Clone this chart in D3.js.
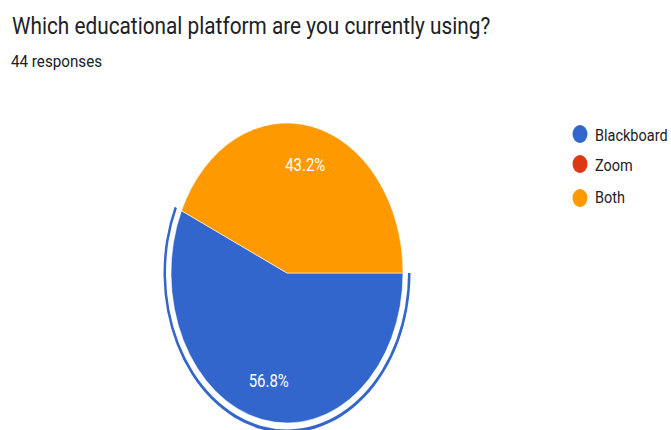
<!DOCTYPE html>
<html><head><meta charset="utf-8">
<script src="https://cdn.jsdelivr.net/npm/d3@7"></script>
<style>body{margin:0;background:#fff}svg{display:block}</style>
</head><body>
<script>
const categories = ["Blackboard", "Zoom", "Both"];
const values = [25, 0, 19];
const colors = ["#3366cc", "#dc3912", "#ff9900"];
const title = "Which educational platform are you currently using?";
const subtitle = "44 responses";

const W = 671, H = 430;
const svg = d3.select("body").append("svg").attr("width", W).attr("height", H);
svg.append("rect").attr("width", W).attr("height", H).attr("fill", "#fff");

svg.append("text").attr("transform", "translate(12,34) scale(1,1.15)")
  .attr("font-family", "Roboto").attr("font-size", 20.8).attr("fill", "#202124")
  .text(title);
svg.append("text").attr("transform", "translate(11,67) scale(1,1.05)")
  .attr("font-family", "Roboto").attr("font-size", 15.2).attr("fill", "#202124")
  .text(subtitle);

const total = d3.sum(values);
const r = 116, sy = 150 / 116;
const pie = d3.pie().sort(null).value(d => d).startAngle(Math.PI / 2).endAngle(Math.PI / 2 + 2 * Math.PI);
const arcs = pie(values);
const arc = d3.arc().innerRadius(0).outerRadius(r);
const ring = d3.arc().innerRadius(r + 5).outerRadius(r + 7.5);

const g = svg.append("g").attr("transform", `translate(287,273) scale(1,${sy})`);
g.selectAll("path.s").data(arcs.filter(a => a.value > 0)).join("path")
  .attr("class", "s").attr("d", arc).attr("fill", (d) => colors[d.index])
  .attr("stroke", "#fff").attr("stroke-width", 0.5);
g.append("path").datum(arcs[0]).attr("d", ring).attr("fill", colors[0]);

const lab = d3.arc().innerRadius(r * 0.74).outerRadius(r * 0.74);
svg.selectAll("text.pct").data(arcs.filter(a => a.value > 0)).join("text")
  .attr("class", "pct")
  .attr("transform", d => { const c = lab.centroid(d); return `translate(${287 + c[0]},${273 + c[1] * sy + 6}) scale(1,1.2)`; })
  .attr("text-anchor", "middle").attr("font-family", "Roboto").attr("font-size", 15)
  .attr("fill", "#fff").text(d => (d.value / total * 100).toFixed(1) + "%");

const leg = svg.append("g");
const ly = [134, 164, 198];
const lb = [141, 170.5, 203];
categories.forEach((c, i) => {
  leg.append("ellipse").attr("cx", 580).attr("cy", ly[i]).attr("rx", 7.5).attr("ry", 9).attr("fill", colors[i]);
  leg.append("text").attr("transform", `translate(595,${lb[i]}) scale(1,1.2)`)
    .attr("font-family", "Roboto").attr("font-size", 14.5).attr("fill", "#222").text(c);
});
</script>
</body></html>
